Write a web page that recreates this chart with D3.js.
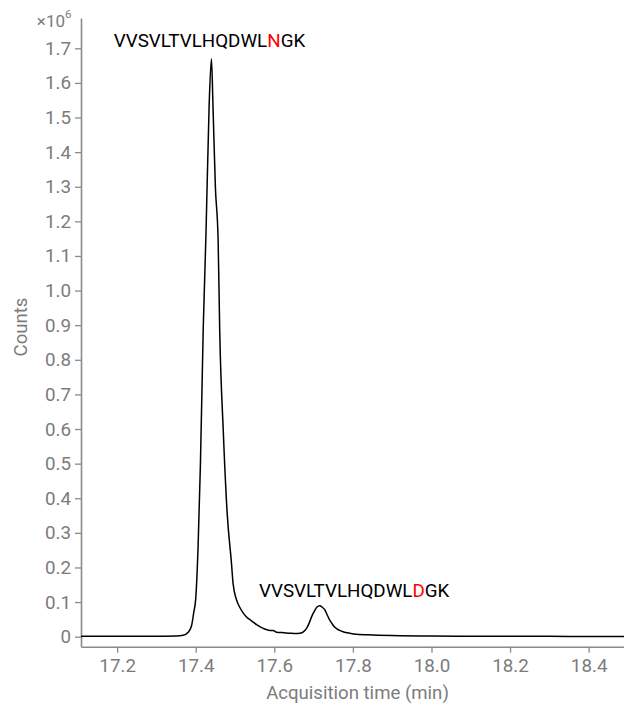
<!DOCTYPE html>
<html>
<head>
<meta charset="utf-8">
<script src="https://cdn.jsdelivr.net/npm/d3@7"></script>
<style>
  html, body { margin: 0; padding: 0; background: #fff; }
  svg { display: block; font-family: Roboto, "Open Sans", sans-serif; }
</style>
</head>
<body>
<svg id="chart" width="624" height="706"></svg>
<script>
// Acquisition time (min)
const times = [
  17.108, 17.20, 17.30, 17.35, 17.368, 17.380, 17.389, 17.395, 17.400, 17.406,
  17.412, 17.419, 17.426, 17.434, 17.440, 17.444, 17.450, 17.457, 17.461, 17.470,
  17.480, 17.491, 17.495, 17.504, 17.512, 17.521, 17.530, 17.542, 17.556, 17.572,
  17.589, 17.597, 17.606, 17.620, 17.640, 17.655, 17.665, 17.674, 17.682, 17.689,
  17.695, 17.702, 17.708, 17.716, 17.722, 17.729, 17.735, 17.741, 17.748, 17.754,
  17.765, 17.775, 17.792, 17.809, 17.85, 17.92, 18.0, 18.1, 18.2, 18.3, 18.4, 18.49
];
// Counts (x10^6)
const counts = [
  0.001, 0.001, 0.0015, 0.002, 0.004, 0.012, 0.030, 0.070, 0.110, 0.260,
  0.500, 0.886, 1.160, 1.530, 1.670, 1.530, 1.300, 1.146, 0.886, 0.597,
  0.357, 0.212, 0.154, 0.106, 0.085, 0.068, 0.056, 0.046, 0.034, 0.024,
  0.018, 0.018, 0.013, 0.012, 0.010, 0.009, 0.010, 0.014, 0.024, 0.040,
  0.058, 0.074, 0.085, 0.0896, 0.085, 0.077, 0.062, 0.048, 0.036, 0.027,
  0.019, 0.0145, 0.010, 0.007, 0.005, 0.003, 0.002, 0.0015, 0.001, 0.001, 0.0008, 0.0008
];
const xTicks = [17.2, 17.4, 17.6, 17.8, 18.0, 18.2, 18.4];
const yTicks = [0, 0.1, 0.2, 0.3, 0.4, 0.5, 0.6, 0.7, 0.8, 0.9, 1.0, 1.1, 1.2, 1.3, 1.4, 1.5, 1.6, 1.7];
// Peak annotations: [prefix, highlighted residue, suffix]
const peakLabels = [
  { parts: ["VVSVLTVLHQDWL", "N", "GK"], time: 17.435, value: 1.705, anchor: "middle" },
  { parts: ["VVSVLTVLHQDWL", "D", "GK"], time: 17.561, value: 0.116, anchor: "start" }
];

const W = 624, H = 706;
const margin = { left: 81, right: 0, top: 18, bottom: 59.3 };
const svg = d3.select("#chart");

const x = d3.scaleLinear().domain([17.108, 18.49]).range([margin.left, W - margin.right]);
const y = d3.scaleLinear().domain([-0.0289, 1.7875]).range([H - margin.bottom, margin.top]);

const axisColor = "#8a8a8a";
const textColor = "#7c7c7c";

// X axis
const gx = svg.append("g")
  .attr("transform", `translate(0,${H - margin.bottom})`)
  .call(d3.axisBottom(x).tickValues(xTicks).tickFormat(d3.format(".1f")).tickSize(6).tickSizeOuter(0).tickPadding(6));
// Y axis
const gy = svg.append("g")
  .attr("transform", `translate(${margin.left},0)`)
  .call(d3.axisLeft(y).tickValues(yTicks).tickFormat(d => d === 0 ? "0" : d3.format(".1f")(d)).tickSize(6).tickSizeOuter(0).tickPadding(4));

[gx, gy].forEach(g => {
  g.select(".domain").attr("stroke", axisColor).attr("stroke-width", 1.6);
  g.selectAll(".tick line").attr("stroke", axisColor).attr("stroke-width", 1.3);
  g.selectAll(".tick text").attr("fill", textColor).attr("font-size", 18.8).attr("font-family", "Roboto");
});

// Exponent label
const expo = svg.append("text")
  .attr("x", 71.5).attr("y", 27)
  .attr("text-anchor", "end")
  .attr("fill", textColor)
  .attr("font-size", 17)
  .attr("font-family", "Roboto");
expo.append("tspan").text("\u00d710");
expo.append("tspan").attr("font-size", 11.5).attr("dy", -9).text("6");

// Axis titles
svg.append("text")
  .attr("x", 357.5)
  .attr("y", 699)
  .attr("text-anchor", "middle")
  .attr("fill", textColor)
  .attr("font-size", 18.6)
  .attr("font-family", "Roboto")
  .text("Acquisition time (min)");

svg.append("text")
  .attr("transform", `translate(26.5,${327}) rotate(-90)`)
  .attr("text-anchor", "middle")
  .attr("fill", textColor)
  .attr("font-size", 18.6)
  .attr("font-family", "Roboto")
  .text("Counts");

// Chromatogram trace
const data = times.map((t, i) => ({ t, v: counts[i] }));
const line = d3.line().x(d => x(d.t)).y(d => y(d.v)).curve(d3.curveMonotoneX);
svg.append("path")
  .datum(data)
  .attr("d", line)
  .attr("fill", "none")
  .attr("stroke", "#000")
  .attr("stroke-width", 1.5)
  .attr("stroke-linejoin", "round");

// Peak labels
peakLabels.forEach(lab => {
  const t = svg.append("text")
    .attr("x", x(lab.time))
    .attr("y", y(lab.value))
    .attr("text-anchor", lab.anchor)
    .attr("font-size", 18.8)
    .attr("font-family", "Roboto")
    .attr("fill", "#000");
  t.append("tspan").text(lab.parts[0]);
  t.append("tspan").attr("fill", "#ff0000").text(lab.parts[1]);
  t.append("tspan").text(lab.parts[2]);
});
</script>
</body>
</html>
